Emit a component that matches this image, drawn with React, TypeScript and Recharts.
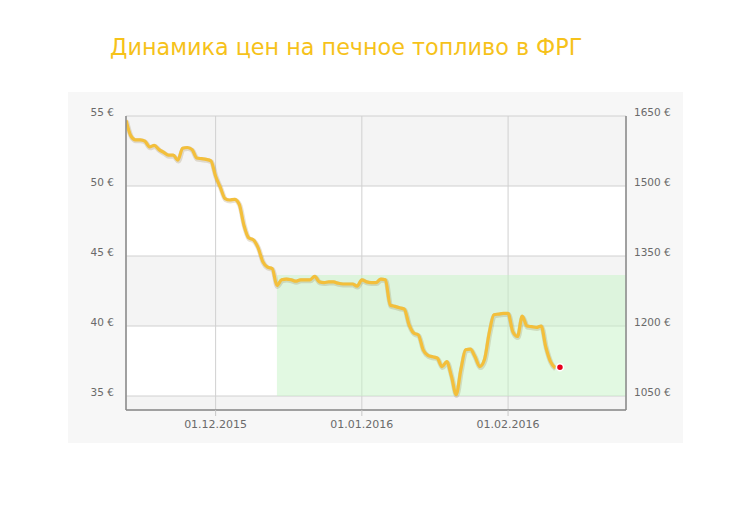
import React from "react";
import {
  ComposedChart,
  Line,
  XAxis,
  YAxis,
  CartesianGrid,
  ReferenceArea,
  ReferenceDot,
} from "recharts";

const title = "Динамика цен на печное топливо в ФРГ";

// Daily prices (€ per 100 l) starting 12.11.2015
const startDate = "2015-11-12";
const prices = [
  54.7, 53.6, 53.3, 53.3, 53.2, 52.8, 52.9, 52.6, 52.4, 52.2,
  52.2, 51.85, 52.7, 52.75, 52.6, 52.0, 51.95, 51.9, 51.8, 50.7,
  49.9, 49.1, 49.0, 49.05, 48.7, 47.2, 46.3, 46.15, 45.6, 44.6,
  44.2, 44.1, 42.9, 43.3, 43.35, 43.3, 43.2, 43.3, 43.3, 43.3,
  43.55, 43.15, 43.1, 43.15, 43.15, 43.05, 43.0, 43.0, 43.0, 42.85,
  43.3, 43.15, 43.1, 43.1, 43.35, 43.3, 41.5, 41.4, 41.3, 41.2,
  40.1, 39.5, 39.35, 38.3, 37.9, 37.8, 37.7, 37.1, 37.45, 36.4,
  35.1, 36.9, 38.3, 38.35, 37.8, 37.1, 37.6, 39.5, 40.8, 40.85,
  40.9, 40.9, 39.6, 39.25, 40.7, 40.0, 39.95, 39.9, 40.0, 38.5,
  37.45, 37.0,
];

const lastPointDate = "2016-02-12";
const lastPointValue = 37.05;

const xStart = "2015-11-12";
const xEnd = "2016-02-26";
const xTickDates = ["2015-12-01", "2016-01-01", "2016-02-01"];

const leftTicks = [35, 40, 45, 50, 55];
const rightTicks = [1050, 1200, 1350, 1500, 1650];
const leftDomain = [34, 55];
const rightDomain = [1020, 1650];

const zoneStart = "2015-12-14";
const zoneEnd = "2016-02-26";
const zoneLow = 35;
const zoneHigh = 43.65;

const DAY = 86400000;
const ts = (s: string) => {
  const [y, m, d] = s.split("-").map(Number);
  return Date.UTC(y, m - 1, d);
};
const fmtDate = (t: number) => {
  const d = new Date(t);
  const dd = String(d.getUTCDate()).padStart(2, "0");
  const mm = String(d.getUTCMonth() + 1).padStart(2, "0");
  return `${dd}.${mm}.${d.getUTCFullYear()}`;
};

const data = prices.map((v, i) => ({ t: ts(startDate) + i * DAY, price: v }));

const FONT = "'DejaVu Sans', Verdana, sans-serif";

const YTick = (props: any) => {
  const { x, y, payload, textAnchor } = props;
  return (
    <text
      x={x}
      y={y}
      dy={-0.5}
      textAnchor={textAnchor}
      fill="#6a6a6a"
      fontSize={10.5}
      fontFamily={FONT}
    >
      {payload.value} €
    </text>
  );
};

const XTick = (props: any) => {
  const { x, y, payload } = props;
  return (
    <text
      x={x}
      y={y + 10}
      textAnchor="middle"
      fill="#6a6a6a"
      fontSize={11}
      fontFamily={FONT}
    >
      {fmtDate(payload.value)}
    </text>
  );
};

export default function App() {
  return (
    <div
      style={{
        position: "absolute",
        left: 0,
        top: 0,
        width: 750,
        height: 516,
        background: "#ffffff",
        overflow: "hidden",
      }}
    >
      <div
        style={{
          position: "absolute",
          left: 68,
          top: 92,
          width: 615,
          height: 351,
          background: "#f7f7f7",
        }}
      />
      <div
        style={{
          position: "absolute",
          left: 110,
          top: 36,
          fontFamily: FONT,
          fontSize: 22.3,
          lineHeight: "22px",
          color: "#f6c21a",
          whiteSpace: "nowrap",
        }}
      >
        {title}
      </div>
      <div style={{ position: "absolute", left: 0, top: 0 }}>
        <ComposedChart
          width={750}
          height={516}
          data={data}
          margin={{ top: 116, left: 66, right: 64, bottom: 76 }}
        >
          <CartesianGrid
            stroke="#d0d0d0"
            strokeWidth={1}
            yAxisId="left"
            horizontalFill={["#f4f4f4", "#ffffff"]}
            fillOpacity={1}
          />
          <ReferenceArea
            yAxisId="left"
            x1={ts(zoneStart)}
            x2={ts(zoneEnd)}
            y1={zoneLow}
            y2={zoneHigh}
            fill="#c6f3c6"
            fillOpacity={0.5}
            stroke="none"
          />
          <XAxis
            dataKey="t"
            type="number"
            domain={[ts(xStart), ts(xEnd)]}
            ticks={xTickDates.map(ts)}
            tick={<XTick />}
            tickLine={{ stroke: "#c8c8c8" }}
            tickSize={6}
            axisLine={{ stroke: "#8a8a8a", strokeWidth: 1.5 }}
            height={30}
            allowDataOverflow
          />
          <YAxis
            yAxisId="left"
            orientation="left"
            domain={leftDomain}
            ticks={leftTicks}
            tick={<YTick />}
            tickLine={false}
            tickMargin={6}
            axisLine={{ stroke: "#8a8a8a", strokeWidth: 1.5 }}
            width={60}
            allowDataOverflow
          />
          <YAxis
            yAxisId="right"
            orientation="right"
            domain={rightDomain}
            ticks={rightTicks}
            tick={<YTick />}
            tickLine={false}
            tickMargin={2}
            axisLine={{ stroke: "#8a8a8a", strokeWidth: 1.5 }}
            width={60}
            allowDataOverflow
          />
          <Line
            yAxisId="left"
            dataKey="price"
            type="monotone"
            stroke="rgba(120,90,20,0.18)"
            strokeWidth={5}
            dot={false}
            activeDot={false}
            isAnimationActive={false}
            transform="translate(0.5,1)"
          />
          <Line
            yAxisId="left"
            dataKey="price"
            type="monotone"
            stroke="#f3bf3b"
            strokeWidth={3.2}
            dot={false}
            activeDot={false}
            isAnimationActive={false}
          />
          <ReferenceDot
            yAxisId="left"
            x={ts(lastPointDate)}
            y={lastPointValue}
            r={3.5}
            fill="#e8001c"
            stroke="#ffffff"
            strokeWidth={1.5}
          />
        </ComposedChart>
      </div>
    </div>
  );
}
